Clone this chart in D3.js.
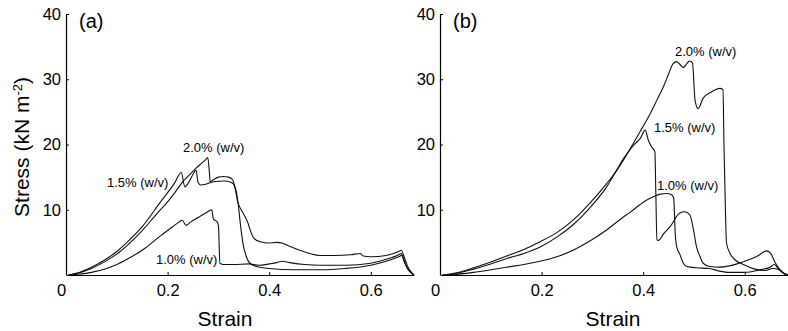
<!DOCTYPE html>
<html>
<head>
<meta charset="utf-8">
<script src="https://cdn.jsdelivr.net/npm/d3@7"></script>
<style>
  body { margin: 0; background: #fff; }
  svg { display: block; font-family: "Liberation Sans", Arial, Helvetica, sans-serif; }
</style>
</head>
<body>
<div id="chart"></div>
<script>
// stress-strain curves, [strain, stress in kN m^-2]
const curveA10 = [[0.005,0],[0.02,0.1],[0.05,0.4],[0.08,1.0],[0.1,1.6],[0.12,2.4],[0.15,3.8],[0.186,6.0],[0.21,7.4],[0.222,8.1],[0.229,8.4],[0.236,7.6],[0.245,8.1],[0.26,8.8],[0.275,9.5],[0.287,10.0],[0.29,8.6],[0.297,8.2],[0.3,7.6],[0.303,1.8],[0.31,1.6],[0.33,1.6],[0.36,1.7],[0.38,1.5],[0.4,1.7],[0.415,1.9],[0.425,2.1],[0.44,1.9],[0.47,1.6],[0.5,1.5],[0.55,1.5],[0.6,1.8],[0.63,2.4],[0.655,3.1],[0.66,3.3],[0.665,2.3],[0.672,1.0],[0.68,0.3],[0.685,0]];
const curveA15 = [[0.005,0],[0.02,0.25],[0.05,1.2],[0.08,2.5],[0.1,3.6],[0.12,5.0],[0.15,7.4],[0.186,11.2],[0.213,14.0],[0.227,15.7],[0.234,13.5],[0.24,14.0],[0.25,15.4],[0.256,16.1],[0.26,14.2],[0.265,13.8],[0.275,13.9],[0.29,14.3],[0.31,14.4],[0.325,14.2],[0.333,13.4],[0.338,11.5],[0.343,8.0],[0.348,5.0],[0.355,2.8],[0.362,1.8],[0.375,1.3],[0.4,1.0],[0.45,0.8],[0.5,0.8],[0.55,1.0],[0.6,1.5],[0.63,2.1],[0.655,2.8],[0.661,3.0],[0.666,2.0],[0.674,0.8],[0.685,0]];
const curveA20 = [[0.005,0],[0.02,0.2],[0.05,1.0],[0.08,2.2],[0.1,3.2],[0.12,4.5],[0.15,6.8],[0.18,9.5],[0.2,11.2],[0.215,12.7],[0.23,14.3],[0.245,15.5],[0.255,16.3],[0.265,17.0],[0.274,17.6],[0.279,18.0],[0.282,16.0],[0.284,14.3],[0.29,14.6],[0.3,15.0],[0.31,15.1],[0.32,15.0],[0.328,14.6],[0.333,13.2],[0.338,11.2],[0.345,10.0],[0.352,9.0],[0.358,8.0],[0.363,6.8],[0.37,5.6],[0.382,5.1],[0.4,4.9],[0.415,5.0],[0.425,4.9],[0.44,4.4],[0.46,3.8],[0.48,3.3],[0.5,3.0],[0.53,3.0],[0.56,3.1],[0.58,3.3],[0.585,2.9],[0.6,2.8],[0.63,3.0],[0.655,3.6],[0.66,3.8],[0.665,2.9],[0.672,1.4],[0.68,0.4],[0.685,0]];

const curveB10 = [[0.005,0],[0.03,0.1],[0.066,0.4],[0.1,0.8],[0.131,1.2],[0.165,1.6],[0.197,2.1],[0.23,2.8],[0.262,3.8],[0.295,5.2],[0.328,6.9],[0.361,8.9],[0.374,9.6],[0.394,10.8],[0.407,11.5],[0.42,12.0],[0.433,12.4],[0.446,12.5],[0.456,12.3],[0.46,11.8],[0.463,6.4],[0.466,4.3],[0.472,3.2],[0.479,1.8],[0.486,1.3],[0.505,1.1],[0.53,1.0],[0.55,0.6],[0.57,0.4],[0.6,0.4],[0.63,0.8],[0.65,1.2],[0.658,1.6],[0.665,1.1],[0.675,0.3],[0.685,0]];
const curveB15 = [[0.005,0],[0.03,0.2],[0.066,0.9],[0.1,1.7],[0.131,2.5],[0.165,3.3],[0.197,4.3],[0.23,5.8],[0.262,7.7],[0.295,10.3],[0.328,13.5],[0.345,15.7],[0.361,17.8],[0.374,19.2],[0.385,20.2],[0.394,20.9],[0.404,22.2],[0.41,20.7],[0.416,19.7],[0.423,18.9],[0.425,12.0],[0.427,5.4],[0.43,5.3],[0.44,6.3],[0.453,7.4],[0.472,9.5],[0.482,9.7],[0.492,9.2],[0.499,6.9],[0.505,4.3],[0.512,2.8],[0.518,1.8],[0.531,1.3],[0.55,1.2],[0.57,1.4],[0.6,2.1],[0.625,2.9],[0.643,3.7],[0.652,3.2],[0.659,2.0],[0.675,0.4],[0.685,0]];
const curveB20 = [[0.005,0],[0.03,0.3],[0.066,1.1],[0.1,2.0],[0.131,2.9],[0.165,3.9],[0.197,5.1],[0.23,6.5],[0.262,8.4],[0.295,11.0],[0.328,14.0],[0.345,15.7],[0.361,17.6],[0.374,19.3],[0.394,22.0],[0.413,24.6],[0.427,26.8],[0.44,28.9],[0.45,30.8],[0.459,32.4],[0.466,32.7],[0.472,32.3],[0.479,31.8],[0.485,32.3],[0.491,32.8],[0.497,32.5],[0.502,26.8],[0.508,25.5],[0.518,27.1],[0.535,28.1],[0.551,28.6],[0.557,28.4],[0.559,20.0],[0.561,13.0],[0.564,4.9],[0.571,3.3],[0.581,2.3],[0.597,1.6],[0.62,0.9],[0.64,0.7],[0.655,1.0],[0.665,0.9],[0.68,0.1],[0.685,0]];

const concLabels = ['1.0% (w/v)', '1.5% (w/v)', '2.0% (w/v)'];
const panelNames = ['(a)', '(b)'];
const xTicks = [0, 0.2, 0.4, 0.6];
const yTicks = [10, 20, 30, 40];

const width = 788, height = 331;

let svg = d3.select('#chart')
            .append('svg')
            .attr('width', width)
            .attr('height', height);

svg.append('rect').attr('width', width).attr('height', height).attr('fill', '#fff');

//Shared stress scale
let yScale = d3.scaleLinear().domain([0, 40]).range([275, 14]);

function drawPanel(x0, curves, name, labelSpots, titleX) {
  let xScale = d3.scaleLinear().domain([0, 0.685]).range([x0, x0 + 0.685 * 508]);

  let g = svg.append('g').attr('class', 'panel');

  //Curves (monotone keeps the sharp drops from overshooting)
  let line = d3.line()
               .curve(d3.curveMonotoneX)
               .x(d => xScale(d[0]))
               .y(d => yScale(d[1]));

  g.selectAll('.curve')
   .data(curves)
   .enter()
   .append('path')
   .attr('class', 'curve')
   .attr('d', line)
   .attr('fill', 'none')
   .attr('stroke', '#111')
   .attr('stroke-width', 1.1)
   .attr('stroke-linejoin', 'round');

  //Axes, ticks point inward like matlab
  let xAxis = g.append('g')
               .attr('transform', 'translate(0,275)')
               .call(d3.axisBottom(xScale)
                       .tickValues(xTicks)
                       .tickFormat(d3.format('~g'))
                       .tickSizeInner(-3)
                       .tickSizeOuter(0)
                       .tickPadding(9));
  xAxis.selectAll('text').filter(d => d === 0).attr('dx', -5);

  let yAxis = g.append('g')
               .attr('transform', `translate(${x0},0)`)
               .call(d3.axisLeft(yScale)
                       .tickValues(yTicks)
                       .tickSizeInner(-3)
                       .tickSizeOuter(0)
                       .tickPadding(5));
  // axis spans full 0..40 range
  yAxis.select('.domain').attr('d', `M0.5,${yScale(40)}V${yScale(0)}`);

  g.selectAll('.domain').attr('stroke', '#000').attr('stroke-width', 1.2);
  g.selectAll('.tick line').attr('stroke', '#000');
  g.selectAll('.tick text')
   .attr('fill', '#000')
   .style('font-size', '16.5px')
   .style('font-family', '"Liberation Sans", Arial, sans-serif');

  //Axis title
  g.append('text')
   .attr('x', titleX)
   .attr('y', 326)
   .attr('text-anchor', 'middle')
   .style('font-size', '21px')
   .text('Strain');

  //Panel letter
  g.append('text')
   .attr('x', x0 + 13)
   .attr('y', 28)
   .style('font-size', '20px')
   .text(name);

  //Concentration labels
  g.selectAll('.conc')
   .data(labelSpots)
   .enter()
   .append('text')
   .attr('class', 'conc')
   .attr('x', d => d[0])
   .attr('y', d => d[1])
   .style('font-size', '13px')
   .text((d, i) => concLabels[i]);
}

drawPanel(66, [curveA10, curveA15, curveA20], panelNames[0],
          [[156, 264], [107, 187], [183, 152]], 225);
drawPanel(440, [curveB10, curveB15, curveB20], panelNames[1],
          [[657, 190], [654, 132], [675, 56]], 613);

//Y axis title with superscript
let yTitle = svg.append('text')
                .attr('transform', 'translate(29,147) rotate(-90)')
                .attr('text-anchor', 'middle')
                .style('font-size', '21px');
yTitle.append('tspan').text('Stress (kN m');
yTitle.append('tspan').attr('dy', -7).style('font-size', '13px').text('-2');
yTitle.append('tspan').attr('dy', 7).text(')');
</script>
</body>
</html>
